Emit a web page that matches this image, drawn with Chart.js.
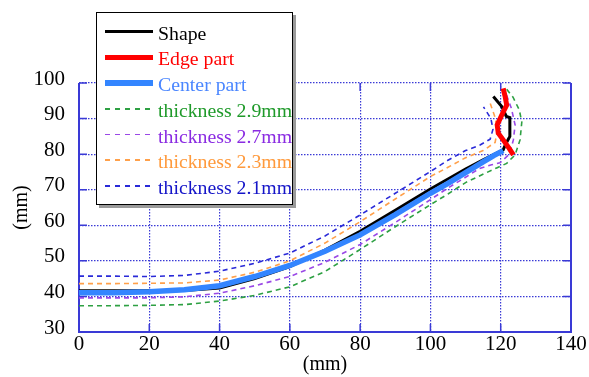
<!DOCTYPE html>
<html>
<head>
<meta charset="utf-8">
<script src="https://cdn.jsdelivr.net/npm/chart.js@4.4.0/dist/chart.umd.min.js"></script>
<style>
  html, body { margin: 0; padding: 0; background: #fff; }
  #wrap { position: relative; width: 589px; height: 377px; }
  #legend {
    position: absolute; left: 96px; top: 12px; width: 195px; height: 191px;
    border: 1px solid #000; background: #fff; box-shadow: 3px 3px 0 #9a9a9a;
    font-family: "Liberation Serif", serif; font-size: 19.8px;
  }
  .row { position: absolute; left: 0; height: 26px; line-height: 26px; white-space: nowrap; }
  .sample { position: absolute; left: 8px; top: 12px; width: 48px; }
  .txt { position: absolute; left: 61px; top: 0; }
</style>
</head>
<body>
<div id="wrap">
  <canvas id="myChart" width="589" height="377"></canvas>
  <div id="legend"></div>
</div>
<script>
// series names (legend order)
const seriesNames = ["Shape", "Edge part", "Center part", "thickness 2.9mm", "thickness 2.7mm", "thickness 2.3mm", "thickness 2.1mm"];

// axis ticks
const xTicks = [0, 20, 40, 60, 80, 100, 120, 140];
const yTicks = [30, 40, 50, 60, 70, 80, 90, 100];

// Shape (black)
const shapeX = [0, 10, 20, 30, 40, 50, 60, 70, 80, 90, 100, 105, 110, 115, 118, 120.7, 121.5, 122.6, 122.6, 121.6, 120.3, 117.9];
const shapeY = [41.6, 41.6, 41.6, 41.7, 42.4, 45.0, 48.4, 53.0, 58.3, 64.2, 70.2, 73.0, 75.8, 78.4, 79.9, 81.2, 83.0, 85.0, 90.3, 90.6, 93.4, 96.2];

// Edge part (red)
const edgeX = [123.6, 122.5, 120.7, 119.3, 119.0, 120.3, 121.7, 121.3, 120.7];
const edgeY = [79.8, 81.5, 84.0, 85.9, 88.2, 91.0, 93.8, 96.0, 98.5];

// Center part (blue)
const centerX = [0, 10, 20, 30, 40, 50, 60, 70, 80, 90, 100, 105, 110, 115, 118, 120.7];
const centerY = [41.0, 41.0, 41.3, 41.9, 43.0, 45.6, 48.7, 52.7, 57.3, 63.0, 69.0, 71.8, 74.8, 77.8, 79.6, 81.0];

// thickness 2.9mm
const t29X = [0, 10, 20, 30, 40, 50, 60, 70, 80, 90, 100, 105, 110, 115.5, 119, 121.7, 124.1, 125.5, 126, 125.3, 123.5, 121.5];
const t29Y = [37.4, 37.4, 37.5, 37.7, 38.7, 40.3, 42.7, 47.0, 53.2, 59.6, 65.8, 68.8, 72.0, 74.6, 76.2, 77.4, 79.8, 84.0, 89.0, 92.4, 96.0, 98.5];

// thickness 2.7mm
const t27X = [0, 10, 20, 30, 40, 50, 60, 70, 80, 90, 100, 105, 110, 114, 117.4, 119.8, 122.5, 123.6, 124.1, 123, 121.5];
const t27Y = [39.6, 39.6, 39.6, 39.9, 40.9, 43.0, 45.6, 49.6, 54.6, 60.8, 67.2, 70.5, 73.5, 76.0, 77.0, 77.6, 80.0, 84.0, 88.2, 93.0, 97.0];

// thickness 2.3mm
const t23X = [0, 10, 20, 30, 40, 50, 60, 70, 80, 90, 100, 105, 110, 115, 118.4, 119, 118.5, 117];
const t23Y = [43.6, 43.6, 43.7, 43.8, 44.6, 46.8, 50.0, 55.0, 61.0, 67.4, 73.7, 76.3, 79.0, 81.0, 83.3, 86.5, 90.0, 94.3];

// thickness 2.1mm
const t21X = [0, 10, 20, 30, 40, 50, 60, 70, 80, 90, 100, 105, 110, 114, 117, 117.8, 117.2, 115.1];
const t21Y = [45.7, 45.7, 45.6, 45.9, 47.1, 49.3, 52.2, 57.0, 62.9, 69.0, 75.1, 78.3, 81.0, 82.5, 84.2, 87.0, 90.0, 93.3];

const FONT = "'Liberation Serif', serif";
const AXIS_BLUE = "#3a3ad6";

function pts(xs, ys) {
  return xs.map((x, i) => ({ x: x, y: ys[i] }));
}

const styles = [
  { color: "#000000", text: "#000000", width: 3, dash: [], order: 2 },
  { color: "#ff0000", text: "#ff0000", width: 5, dash: [], order: 0 },
  { color: "#3385ff", text: "#4a86ff", width: 5.5, dash: [], order: 1 },
  { color: "#2ea043", text: "#1f9a2a", width: 1.6, dash: [5, 4], order: 3 },
  { color: "#9a48e6", text: "#8a2be2", width: 1.6, dash: [5, 4], order: 4 },
  { color: "#ffa04a", text: "#ff9a3c", width: 1.6, dash: [5, 4], order: 5 },
  { color: "#2a2ad8", text: "#1414c8", width: 1.6, dash: [5, 4], order: 6 }
];

const seriesData = [
  pts(shapeX, shapeY), pts(edgeX, edgeY), pts(centerX, centerY),
  pts(t29X, t29Y), pts(t27X, t27Y), pts(t23X, t23Y), pts(t21X, t21Y)
];

const datasets = seriesNames.map((name, i) => ({
  label: name,
  data: seriesData[i],
  showLine: true,
  borderColor: styles[i].color,
  backgroundColor: styles[i].color,
  borderWidth: styles[i].width,
  borderDash: styles[i].dash,
  pointRadius: 0,
  tension: 0,
  order: styles[i].order
}));

// frame + inward tick marks
const framePlugin = {
  id: "frame",
  beforeDatasetsDraw(chart) {
    const { ctx, chartArea: a } = chart;
    const xs = chart.scales.x, ys = chart.scales.y;
    ctx.save();
    ctx.strokeStyle = AXIS_BLUE;
    ctx.lineWidth = 2;
    ctx.beginPath();
    ctx.moveTo(a.left, a.top);
    ctx.lineTo(a.left, a.bottom);
    ctx.lineTo(a.right, a.bottom);
    ctx.lineTo(a.right, a.top);
    ctx.stroke();
    ctx.lineWidth = 1.5;
    ctx.beginPath();
    xTicks.forEach(v => {
      const px = xs.getPixelForValue(v);
      ctx.moveTo(px, a.bottom); ctx.lineTo(px, a.bottom - 8);
      ctx.moveTo(px, a.top); ctx.lineTo(px, a.top + 8);
    });
    yTicks.forEach(v => {
      const py = ys.getPixelForValue(v);
      ctx.moveTo(a.left, py); ctx.lineTo(a.left + 8, py);
      ctx.moveTo(a.right, py); ctx.lineTo(a.right - 8, py);
    });
    ctx.stroke();
    ctx.restore();
  }
};

new Chart("myChart", {
  type: "scatter",
  data: { datasets: datasets },
  options: {
    responsive: false,
    animation: false,
    devicePixelRatio: 1,
    layout: { padding: { top: 83, right: 18, left: 0, bottom: 0 } },
    plugins: {
      legend: { display: false },
      tooltip: { enabled: false }
    },
    scales: {
      x: {
        type: "linear",
        min: 0,
        max: 140,
        afterBuildTicks: s => { s.ticks = xTicks.map(v => ({ value: v })); },
        afterFit: s => { s.height = 45; },
        ticks: { color: "#000", font: { family: FONT, size: 21 }, padding: 0, maxRotation: 0 },
        grid: { color: AXIS_BLUE, lineWidth: 1.2, drawTicks: false },
        border: { display: false, dash: [1.5, 1.5] },
        title: { display: true, text: "(mm)", color: "#000", font: { family: FONT, size: 20 }, padding: 0 }
      },
      y: {
        type: "linear",
        min: 30,
        max: 100,
        afterBuildTicks: s => { s.ticks = yTicks.map(v => ({ value: v })); },
        afterFit: s => { s.width = 79; },
        ticks: { color: "#000", font: { family: FONT, size: 21 }, padding: 14, labelOffset: -4 },
        grid: { color: AXIS_BLUE, lineWidth: 1.2, drawTicks: false },
        border: { display: false, dash: [1.5, 1.5] },
        title: { display: true, text: "(mm)", color: "#000", font: { family: FONT, size: 20 }, padding: { top: 10, bottom: 0 } }
      }
    }
  },
  plugins: [framePlugin]
});

// html legend built from the series
const legend = document.getElementById("legend");
seriesNames.forEach((name, i) => {
  const st = styles[i];
  const row = document.createElement("div");
  row.className = "row";
  row.style.top = (6.7 + i * 25.7) + "px";
  row.style.width = "195px";
  const sample = document.createElement("div");
  sample.className = "sample";
  const h = st.dash.length ? 1.6 : st.width;
  sample.style.height = h + "px";
  sample.style.marginTop = (-h / 2) + "px";
  if (st.dash.length) {
    sample.style.background = "repeating-linear-gradient(90deg, " + st.color + " 0 5px, transparent 5px 10px)";
  } else {
    sample.style.background = st.color;
  }
  const txt = document.createElement("div");
  txt.className = "txt";
  txt.style.color = st.text;
  txt.textContent = name;
  row.appendChild(sample);
  row.appendChild(txt);
  legend.appendChild(row);
});
</script>
</body>
</html>
